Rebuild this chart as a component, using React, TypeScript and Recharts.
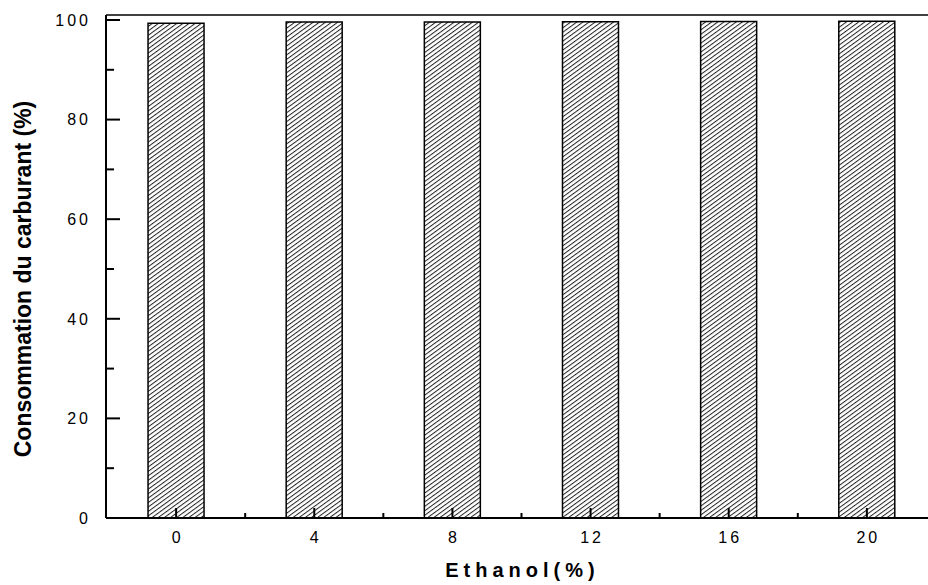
import React from 'react';
import { BarChart, Bar, XAxis, YAxis, ReferenceLine } from 'recharts';

const ethanol = [0, 4, 8, 12, 16, 20];
const consumption = [99.35, 99.6, 99.6, 99.65, 99.7, 99.75];
const xTicks = [0, 2, 4, 6, 8, 10, 12, 14, 16, 18, 20];
const yTicks = [0, 10, 20, 30, 40, 50, 60, 70, 80, 90, 100];

const data = ethanol.map((e, i) => ({ ethanol: e, value: consumption[i] }));

const FONT = '"Liberation Sans", Arial, sans-serif';

const XTick = (props: any) => {
  const { x, y, payload } = props;
  const v = payload.value;
  const major = v % 4 === 0;
  return (
    <g>
      <line x1={x} x2={x} y1={y} y2={y - (major ? 10 : 5)} stroke="#000" strokeWidth={2} />
      {major && (
        <text x={x + 1.5} y={y + 25} textAnchor="middle" fontFamily={FONT} fontSize={16} letterSpacing={3} fill="#000">
          {v}
        </text>
      )}
    </g>
  );
};

const YTick = (props: any) => {
  const { x, y, payload } = props;
  const v = payload.value;
  const major = v % 20 === 0;
  return (
    <g>
      <line x1={x} x2={x + (major ? 14 : 8)} y1={y} y2={y} stroke="#000" strokeWidth={2} />
      {major && (
        <text x={x - 15} y={y + 5.8} textAnchor="end" fontFamily={FONT} fontSize={16} letterSpacing={3} fill="#000">
          {v}
        </text>
      )}
    </g>
  );
};

const YLabel = () => (
  <text
    x={0}
    y={0}
    transform="translate(31,279) rotate(-90)"
    textAnchor="middle"
    fontFamily={FONT}
    fontWeight="bold"
    fontSize={23}
    fill="#000"
  >
    Consommation du carburant (%)
  </text>
);

const XLabel = () => (
  <text x={522.5} y={577} textAnchor="middle" fontFamily={FONT} fontWeight="bold" fontSize={20} letterSpacing={5} fill="#000">
    Ethanol(%)
  </text>
);

export default function App() {
  return (
    <div style={{ position: 'absolute', left: 0, top: 0, width: 928, height: 585, background: '#fff' }}>
      <BarChart width={928} height={585} data={data} margin={{ top: 15, right: 0, bottom: 0, left: 0 }}>
        <defs>
          <pattern id="hatch" patternUnits="userSpaceOnUse" width={3.6} height={10} patternTransform="rotate(54)">
            <rect x={0} y={0} width={3.6} height={10} fill="#fff" />
            <line x1={0.5} y1={0} x2={0.5} y2={10} stroke="#222" strokeWidth={1} />
          </pattern>
        </defs>
        <XAxis
          dataKey="ethanol"
          type="number"
          domain={[-2.03, 21.77]}
          ticks={xTicks}
          interval={0}
          tickSize={0}
          tickMargin={0}
          height={67}
          axisLine={{ stroke: '#000', strokeWidth: 2 }}
          tickLine={false}
          tick={<XTick />}
          allowDataOverflow
        />
        <YAxis
          type="number"
          domain={[0, 101]}
          ticks={yTicks}
          interval={0}
          tickSize={0}
          tickMargin={0}
          width={106}
          axisLine={{ stroke: '#000', strokeWidth: 2 }}
          tickLine={false}
          tick={<YTick />}
          allowDataOverflow
        />
        <ReferenceLine y={101} stroke="#000" strokeWidth={1.5} ifOverflow="visible" />
        <Bar dataKey="value" barSize={56} fill="url(#hatch)" stroke="#000" strokeWidth={1.5} isAnimationActive={false} />
        <YLabel />
        <XLabel />
      </BarChart>
    </div>
  );
}
